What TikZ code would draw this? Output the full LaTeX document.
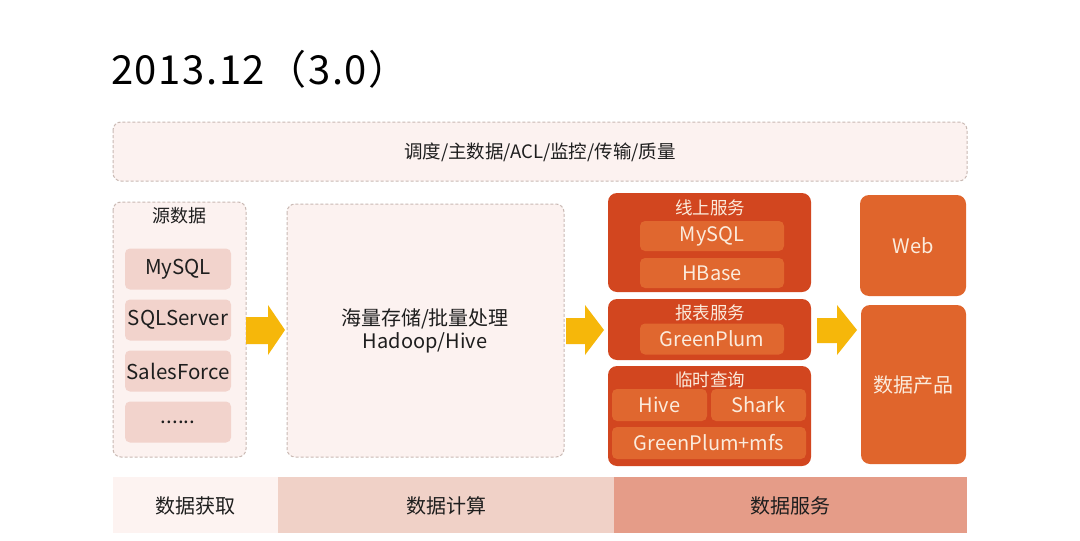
\documentclass[tikz,border=0pt]{standalone}
\usepackage{fontspec}
\setmainfont{Noto Sans CJK SC}
\newfontfamily\titlefont[LetterSpace=4]{Noto Sans CJK SC}
\usetikzlibrary{positioning}
\definecolor{dashbg}{HTML}{FCF2F0}
\definecolor{dashline}{HTML}{C9B9B3}
\definecolor{srcbox}{HTML}{F2D3CC}
\definecolor{svcbox}{HTML}{D2461F}
\definecolor{svcin}{HTML}{E0672F}
\definecolor{prodbox}{HTML}{E0652C}
\definecolor{svctext}{HTML}{FBEBDC}
\definecolor{arrowy}{HTML}{F6B70A}
\definecolor{bandA}{HTML}{FDF3F1}
\definecolor{bandB}{HTML}{F0D1C7}
\definecolor{bandC}{HTML}{E59C88}
\definecolor{txt}{HTML}{1E1E1E}
\tikzset{
  dashbox/.style={draw=dashline, fill=dashbg, dash pattern=on 3pt off 2pt, line width=1pt, rounded corners=8pt, inner sep=0pt},
  srcitem/.style={fill=srcbox, rounded corners=5pt, minimum width=106pt, minimum height=41pt, inner sep=0pt, font=\fontsize{20.5}{24}\selectfont, text=txt},
  svcouter/.style={fill=svcbox, rounded corners=9pt, inner sep=0pt, draw=none},
  svcitem/.style={fill=svcin, rounded corners=5pt, inner sep=0pt, font=\fontsize{20}{24}\selectfont, text=svctext},
  svclabel/.style={font=\fontsize{17.5}{20}\selectfont, text=svctext, inner sep=0pt},
  prod/.style={fill=prodbox, rounded corners=9pt, inner sep=0pt, font=\fontsize{20}{24}\selectfont, text=svctext},
  band/.style={inner sep=0pt, font=\fontsize{20}{24}\selectfont, text=txt},
  bigarrow/.style={fill=arrowy, draw=none},
}
\begin{document}
\begin{tikzpicture}[x=1pt,y=-1pt]
\useasboundingbox (0,0) rectangle (1080,541);
\fill[white] (0,0) rectangle (1080,541);
% title
\node[anchor=base west, inner sep=0pt, font=\titlefont\fontsize{40}{48}\selectfont, text=black] (title) at (111,84) {2013.12（3.0）};
% top box
\draw[dashbox] (113,122) rectangle (967,181);
\node[inner sep=0pt, font=\fontsize{18.5}{22}\selectfont, text=txt] (ctrl) at (540,152) {调度/主数据/ACL/监控/传输/质量};
% source box
\draw[dashbox] (113,202) rectangle (246,457);
\node[inner sep=0pt, font=\fontsize{18}{22}\selectfont, text=txt] (srclbl) at (179,216) {源数据};
\node[srcitem] (s1) at (178,269) {MySQL};
\node[srcitem] (s2) at (178,320) {SQLServer};
\node[srcitem] (s3) at (178,371) {SalesForce};
\node[srcitem] (s4) at (178,422) {......};
% compute box
\draw[dashbox] (287,204) rectangle (564,457);
\node[inner sep=0pt, align=center, font=\fontsize{20}{23}\selectfont, text=txt] (comp) at (425,331) {海量存储/批量处理\\Hadoop/Hive};
% arrows
\fill[bigarrow] (246,317) -- (268,317) -- (268,305) -- (285,330) -- (268,355) -- (268,344) -- (246,344) -- cycle;
\fill[bigarrow] (566,318) -- (585,318) -- (585,305) -- (604,330) -- (585,355) -- (585,344) -- (566,344) -- cycle;
\fill[bigarrow] (817,318) -- (837,318) -- (837,305) -- (857,330) -- (837,355) -- (837,343) -- (817,343) -- cycle;
% online service
\draw[svcouter] (608,193) rectangle (811,292);
\node[svclabel] (on) at (710,208) {线上服务};
\node[svcitem, minimum width=144pt, minimum height=30pt] (on1) at (712,236) {MySQL};
\node[svcitem, minimum width=144pt, minimum height=30pt] (on2) at (712,273) {HBase};
% report
\draw[svcouter] (608,299) rectangle (811,360);
\node[svclabel] (rp) at (710,313) {报表服务};
\node[svcitem, minimum width=144pt, minimum height=31pt] (rp1) at (712,339) {GreenPlum};
% adhoc
\draw[svcouter] (608,366) rectangle (811,466);
\node[svclabel] (ah) at (710,380) {临时查询};
\node[svcitem, minimum width=95pt, minimum height=32pt] (ah1) at (659.5,405) {Hive};
\node[svcitem, minimum width=95pt, minimum height=32pt] (ah2) at (758.5,405) {Shark};
\node[svcitem, minimum width=194pt, minimum height=32pt] (ah3) at (709,443) {GreenPlum+mfs};
% products
\node[prod, minimum width=106pt, minimum height=101pt] (web) at (913,245.5) {Web};
\node[prod, minimum width=105pt, minimum height=159pt] (dp) at (913.5,384.5) {数据产品};
% bottom bands
\fill[bandA] (113,477) rectangle (278,533);
\fill[bandB] (278,477) rectangle (614,533);
\fill[bandC] (614,477) rectangle (967,533);
\node[band] (b1) at (195.5,506) {数据获取};
\node[band] (b2) at (446,506) {数据计算};
\node[band] (b3) at (790.5,506) {数据服务};
\end{tikzpicture}
\end{document}
